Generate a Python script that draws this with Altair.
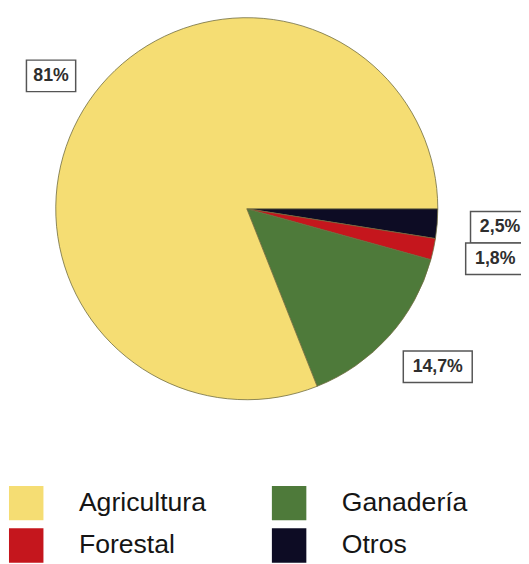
import math
import altair as alt
import pandas as pd

# Slices in clockwise order starting at 3 o'clock
categories = ["Otros", "Forestal", "Ganadería", "Agricultura"]
values = [2.5, 1.8, 14.7, 81.0]
labels = ["2,5%", "1,8%", "14,7%", "81%"]

# Legend is filled column by column
legend_order = ["Agricultura", "Forestal", "Ganadería", "Otros"]
legend_colors = ["#F5DD73", "#C5161D", "#4E7A3A", "#0D0C24"]

df = pd.DataFrame({
    "cat": categories,
    "value": values,
    "label": labels,
    "idx": list(range(len(categories))),
})

CX, CY = 242.5, 199.5
LCX = CX + 8  # label ring centre is slightly right of the pie centre
R = 194
RX, RY = 250, 240
START = math.pi / 2

color = alt.Color(
    "cat:N",
    scale=alt.Scale(domain=legend_order, range=legend_colors),
    legend=alt.Legend(
        title=None,
        orient="none",
        legendX=1,
        legendY=481,
        columns=2,
        symbolType="square",
        symbolSize=1225,
        symbolStrokeWidth=0,
        symbolOpacity=1,
        labelFont="Liberation Sans",
        labelFontSize=27,
        labelColor="#151515",
        labelOffset=36,
        columnPadding=66,
        rowPadding=8,
        padding=0,
        labelLimit=400,
    ),
)

arc = alt.Chart(df).mark_arc(
    outerRadius=R, stroke="#6f6b3e", strokeWidth=0.8
).encode(
    theta=alt.Theta(
        "value:Q",
        stack=True,
        scale=alt.Scale(range=[START, START + 2 * math.pi]),
    ),
    order=alt.Order("idx:Q", sort="ascending"),
    color=color,
    x=alt.value(CX),
    y=alt.value(CY),
)

lab = alt.Chart(df).transform_window(
    cum="sum(value)", sort=[alt.SortField("idx")], frame=[None, 0]
).transform_joinaggregate(
    total="sum(value)"
).transform_calculate(
    ang="2*PI*(datum.cum - datum.value/2)/datum.total"
).transform_calculate(
    lx=f"{LCX} + {RX}*cos(datum.ang)",
    ly=f"{CY} + {RY}*sin(datum.ang)",
    w="10*length(datum.label) + 20",
).transform_calculate(
    x1="datum.lx - datum.w/2",
    x2="datum.lx + datum.w/2",
    y1="datum.ly - 16",
    y2="datum.ly + 16",
)

boxes = lab.mark_rect(fill="white", stroke="#555555", strokeWidth=1.5).encode(
    x=alt.X("x1:Q", scale=None),
    x2="x2:Q",
    y=alt.Y("y1:Q", scale=None),
    y2="y2:Q",
)

texts = lab.mark_text(
    font="Liberation Sans",
    fontSize=18,
    fontWeight="bold",
    color="#2e2e2e",
    align="center",
    baseline="middle",
).encode(
    x=alt.X("lx:Q", scale=None),
    y=alt.Y("ly:Q", scale=None),
    text="label:N",
)

chart = alt.layer(arc, boxes, texts).properties(
    width=521, height=556, autosize="none", padding=0
).configure_view(stroke=None)

chart.save("out.html", embed_options={"renderer": "svg", "actions": False})
